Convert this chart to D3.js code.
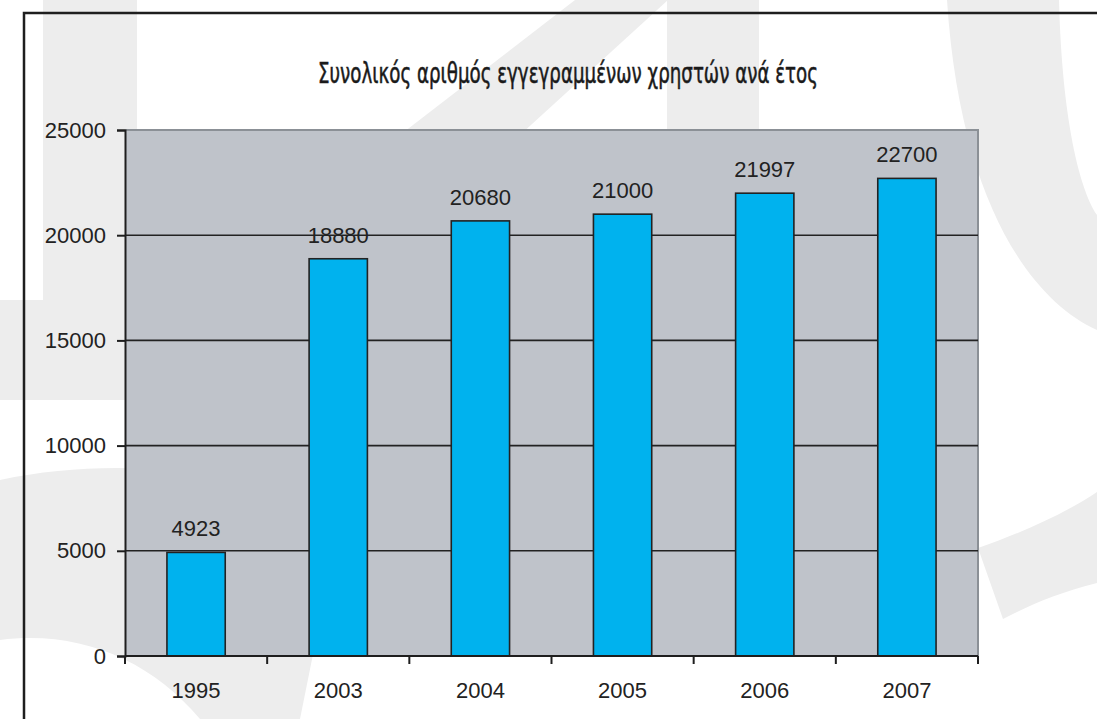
<!DOCTYPE html>
<html>
<head>
<meta charset="utf-8">
<script src="https://cdn.jsdelivr.net/npm/d3@7"></script>
<style>
	body{margin:0;background:#fff;}
	svg{display:block;}
</style>
</head>
<body>
<div id="chart"></div>
<script>
/* bar chart: registered users per year */

const years = ['1995','2003','2004','2005','2006','2007']
const users = [4923,18880,20680,21000,21997,22700]
const yTicks = [0,5000,10000,15000,20000,25000]
const title = 'Συνολικός αριθμός εγγεγραμμένων χρηστών ανά έτος'

const width = 1097
const height = 719
const margin = {top:130,right:119,bottom:63,left:125}

const svg = d3.select('#chart').append('svg')
	.attr('width',width)
	.attr('height',height)

//watermark shapes in the background
const wm = svg.append('g').attr('fill','#ededed')
wm.append('rect').attr('x',43).attr('y',0).attr('width',94).attr('height',300)
wm.append('rect').attr('x',0).attr('y',300).attr('width',140).attr('height',100)
wm.append('path').attr('d','M575,0 L668,0 L520,135 L400,135 Z')
wm.append('rect').attr('x',667).attr('y',0).attr('width',92).attr('height',135)
wm.append('path').attr('d','M947,0 L1059,0 C1062,120 1080,190 1097,215 L1097,330 C1030,300 960,200 947,0 Z')
wm.append('path').attr('d','M978,548 C1030,530 1070,510 1097,492 L1097,583 C1060,592 1030,605 1003,619 Z')
wm.append('path').attr('d','M0,480 C120,455 250,470 340,520 L300,719 L200,719 C150,660 80,630 0,640 Z')

//frame
svg.append('path')
	.attr('d',`M24,${height} L24,13 L${width},13`)
	.attr('fill','none')
	.attr('stroke','#1e1e1e')
	.attr('stroke-width',2.5)

svg.append('text')
	.attr('x',568)
	.attr('y',83)
	.attr('text-anchor','middle')
	.attr('textLength',500)
	.attr('lengthAdjust','spacingAndGlyphs')
	.style('font-family','"DejaVu Sans Condensed","DejaVu Sans",sans-serif')
	.style('font-stretch','condensed')
	.style('font-size','28px')
	.style('fill','#1a1a1a')
	.style('stroke','#1a1a1a')
	.style('stroke-width',0.5)
	.text(title)

const x = d3.scaleBand()
	.domain(years)
	.range([margin.left,width-margin.right])
	.paddingInner(0.59)
	.paddingOuter(0.295)

const y = d3.scaleLinear()
	.domain([0,25000])
	.range([height-margin.bottom,margin.top])

const plotG = svg.append('g')

plotG.append('rect')
	.attr('x',margin.left)
	.attr('y',margin.top)
	.attr('width',width-margin.right-margin.left)
	.attr('height',height-margin.bottom-margin.top)
	.attr('fill','#bfc3ca')

//top and right border of the plot area
plotG.append('path')
	.attr('d',`M${margin.left},${margin.top} L${width-margin.right},${margin.top} L${width-margin.right},${height-margin.bottom}`)
	.attr('fill','none')
	.attr('stroke','#8b9096')
	.attr('stroke-width',2)

plotG.selectAll('.grid')
	.data(yTicks.filter(d => d > 0 && d < 25000))
	.enter().append('line')
	.attr('class','grid')
	.attr('x1',margin.left)
	.attr('x2',width-margin.right)
	.attr('y1',d => y(d))
	.attr('y2',d => y(d))
	.attr('stroke','#222')
	.attr('stroke-width',1.6)

plotG.selectAll('.bar')
	.data(users)
	.enter().append('rect')
	.attr('class','bar')
	.attr('x',(d,i) => x(years[i]))
	.attr('y',d => y(d))
	.attr('width',x.bandwidth())
	.attr('height',d => y(0) - y(d))
	.attr('fill','#00b2ee')
	.attr('stroke','#222')
	.attr('stroke-width',1.6)

plotG.selectAll('.value')
	.data(users)
	.enter().append('text')
	.attr('class','value')
	.attr('x',(d,i) => x(years[i]) + x.bandwidth()/2)
	.attr('y',d => y(d) - 16)
	.attr('text-anchor','middle')
	.style('font-family','"Liberation Sans",Arial,sans-serif')
	.style('font-size','22px')
	.style('fill','#222')
	.text(d => d)

//y axis
const yAxis = svg.append('g')
	.attr('transform',`translate(${margin.left},0)`)
	.call(d3.axisLeft(y).tickValues(yTicks).tickSize(8).tickPadding(11).tickFormat(d3.format('d')))
yAxis.select('.domain').attr('stroke','#1e1e1e').attr('stroke-width',2)
yAxis.selectAll('.tick line').attr('stroke','#1e1e1e').attr('stroke-width',2)
yAxis.selectAll('text')
	.style('font-family','"Liberation Sans",Arial,sans-serif')
	.style('font-size','22px')
	.style('fill','#222')

//x axis: ticks on the category boundaries
const step = x.step()
const bounds = d3.range(years.length + 1).map(i => margin.left + i*step)
const xAxisG = svg.append('g')
xAxisG.append('line')
	.attr('x1',margin.left).attr('x2',width-margin.right)
	.attr('y1',y(0)).attr('y2',y(0))
	.attr('stroke','#1e1e1e').attr('stroke-width',2.2)
xAxisG.selectAll('.xtick')
	.data(bounds)
	.enter().append('line')
	.attr('class','xtick')
	.attr('x1',d => d).attr('x2',d => d)
	.attr('y1',y(0)).attr('y2',y(0) + 8)
	.attr('stroke','#1e1e1e').attr('stroke-width',2)
xAxisG.selectAll('.xlabel')
	.data(years)
	.enter().append('text')
	.attr('class','xlabel')
	.attr('x',d => x(d) + x.bandwidth()/2)
	.attr('y',698)
	.attr('text-anchor','middle')
	.style('font-family','"Liberation Sans",Arial,sans-serif')
	.style('font-size','22px')
	.style('fill','#222')
	.text(d => d)
</script>
</body>
</html>
